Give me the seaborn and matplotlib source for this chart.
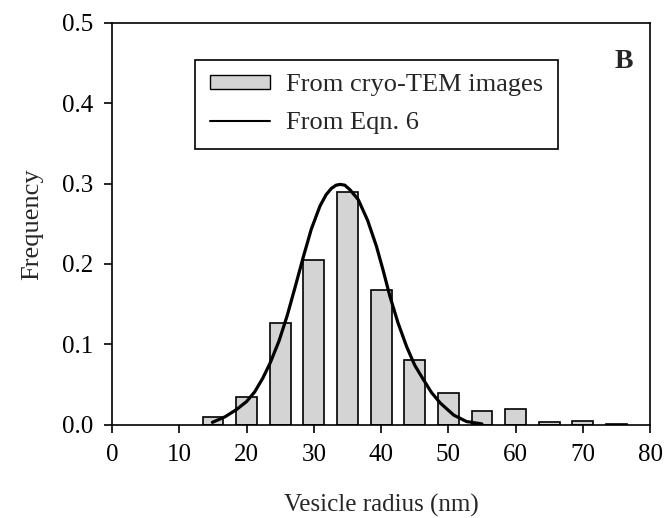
import matplotlib
matplotlib.use("Agg")
import matplotlib.pyplot as plt
import seaborn as sns
import pandas as pd
from matplotlib.patches import Patch
from matplotlib.lines import Line2D

# Histogram data (from cryo-TEM images)
radius = [15, 20, 25, 30, 35, 40, 45, 50, 55, 60, 65, 70, 75]
freq = [0.010, 0.035, 0.126, 0.205, 0.289, 0.168, 0.080, 0.039, 0.017, 0.019, 0.003, 0.005, 0.001]

# Curve (From Eqn. 6)
curve_x = [14.9, 16.8, 18.5, 20.0, 21.2, 22.4, 23.5, 24.8, 26.0, 27.2, 28.4, 29.6, 30.9, 31.8, 32.6,
           33.3, 33.9, 34.6, 35.4, 36.6, 38.0, 39.3, 40.3, 41.3, 42.5, 43.8, 45.0, 46.3, 47.5,
           48.8, 50.8, 52.7, 55.0]
curve_y = [0.003, 0.010, 0.019, 0.029, 0.041, 0.058, 0.077, 0.104, 0.135, 0.171, 0.208, 0.243, 0.272,
           0.286, 0.294, 0.298, 0.299, 0.298, 0.292, 0.280, 0.254, 0.222, 0.192, 0.160, 0.127,
           0.097, 0.074, 0.056, 0.040, 0.027, 0.012, 0.004, 0.001]

x_ticks = [0, 10, 20, 30, 40, 50, 60, 70, 80]
y_ticks = [0.0, 0.1, 0.2, 0.3, 0.4, 0.5]

sns.set_style("ticks")
plt.rcParams['font.family'] = ['Liberation Serif', 'DejaVu Serif']

fig = plt.figure(figsize=(6.64, 5.18), dpi=100)
ax = fig.add_axes([0.169, 0.180, 0.810, 0.776])

bars = pd.DataFrame({"radius": radius, "freq": freq})
sns.barplot(data=bars, x="radius", y="freq", native_scale=True, width=0.62,
            color="#d4d4d4", edgecolor="black", linewidth=1.2, saturation=1, ax=ax)

curve = pd.DataFrame({"x": curve_x, "y": curve_y})
sns.lineplot(data=curve, x="x", y="y", color="black", linewidth=2.3, ax=ax)

ax.set_xlim(0, 80)
ax.set_ylim(0, 0.5)
ax.set_xticks(x_ticks)
ax.set_xticklabels([str(t) for t in x_ticks])
ax.set_yticks(y_ticks)
ax.set_yticklabels([f"{t:.1f}" for t in y_ticks])
ax.tick_params(axis="both", direction="out", length=6, width=1.2, labelsize=18, colors="black")
ax.tick_params(axis="x", pad=8)
ax.tick_params(axis="y", pad=8)
for s in ax.spines.values():
    s.set_visible(True)
    s.set_linewidth(1.2)
    s.set_color("black")

ax.set_xlabel("Vesicle radius (nm)", fontsize=18, labelpad=20)
ax.set_ylabel("Frequency", fontsize=19, labelpad=13)

handles = [Patch(facecolor="#d4d4d4", edgecolor="black", linewidth=1.0, label="From cryo-TEM images"),
           Line2D([0], [0], color="black", linewidth=1.5, label="From Eqn. 6")]
leg = ax.legend(handles=handles, loc="upper left", bbox_to_anchor=(0.154, 0.908),
                borderaxespad=0, fancybox=False, fontsize=19, handlelength=2.3,
                handleheight=0.45, borderpad=0.55, labelspacing=0.6, handletextpad=0.6)
leg.get_frame().set_edgecolor("black")
leg.get_frame().set_linewidth(1.2)
leg.get_frame().set_alpha(1)

ax.text(0.968, 0.903, "B", transform=ax.transAxes, ha="right", va="center",
        fontsize=20, fontweight="bold")

fig.savefig("out.png", dpi=100)
